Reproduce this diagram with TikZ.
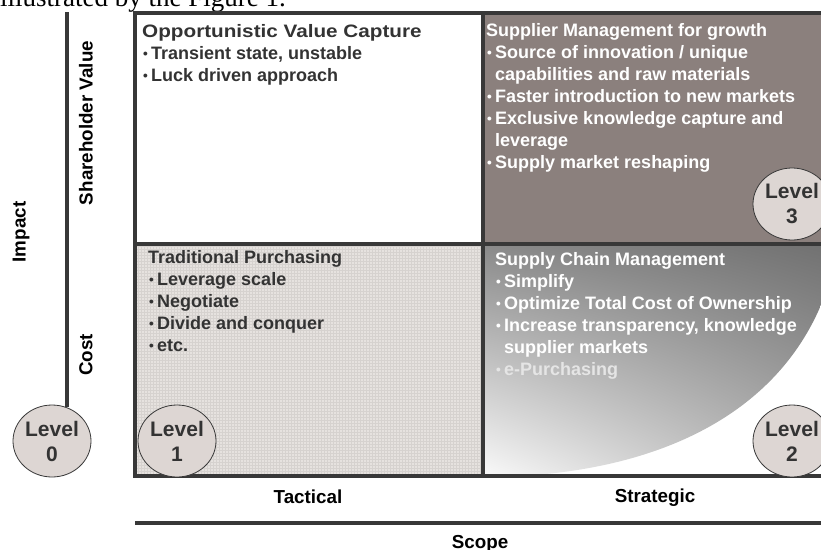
\documentclass[tikz,border=0pt]{standalone}
\usepackage{fontspec}
\usepackage{graphicx}
\setmainfont{Liberation Sans}
\newfontfamily\bodyfont{Liberation Serif}
\usetikzlibrary{shapes.geometric,shadings}
\definecolor{frame}{HTML}{383838}
\definecolor{darktext}{HTML}{333333}
\definecolor{growthbox}{HTML}{8B807D}
\definecolor{tradbox}{HTML}{E6E2DF}
\definecolor{levelfill}{HTML}{DDD6D3}
\tikzset{
  lbl/.style={font=\bfseries\fontsize{18.8}{22}\selectfont, inner sep=0pt},
  boxtext/.style={lbl, font=\bfseries\fontsize{18}{22}\selectfont, anchor=north west, align=left},
  levelcirc/.style={ellipse, draw=frame, line width=0.8pt, fill=levelfill, text=darktext,
    minimum width=78pt, minimum height=72pt, inner sep=0pt, align=center,
    font=\bfseries\fontsize{21}{25}\selectfont},
  axis/.style={frame, line width=3.5pt},
}
\newcommand{\bul}{\makebox[9pt][l]{\hspace{1pt}\raisebox{0.6pt}{\fontsize{13.5}{13.5}\selectfont•}}}
\newcommand{\level}[4]{\node[levelcirc] (#1) at (#2,#3) {Level\\#4};}

\begin{document}
\begin{tikzpicture}[x=1pt,y=-1pt]
    \useasboundingbox (0,0) rectangle (821,549);
    \node[font=\bodyfont\fontsize{27}{27}\selectfont, anchor=base west, inner sep=0pt] (intro) at (0,6) {illustrated by the Figure 1.};
    % quadrant fills
    \fill[growthbox] (483,13) rectangle (835,244);
    \fill[tradbox] (135,244) rectangle (483,476);
    \draw[tradbox!93!black, line width=0.3pt, step=3pt] (135,244) grid (483,476);
    \begin{scope}
      \clip (483,244) -- (835,244) -- (835,262) .. controls (800,410) and (660,477) .. (483,477) -- cycle;
      \shade[upper left=black!46, upper right=black!56, lower left=black!2, lower right=black!32] (483,244) rectangle (835,477);
    \end{scope}
    % frame and axes
    \draw[axis] (135,13) rectangle (840,476);
    \draw[axis] (483,13) -- (483,476);
    \draw[axis] (135,244) -- (840,244);
    \coordinate (imptop) at (67,12);
    \coordinate (scl) at (135,523); \coordinate (scr) at (840,523);
    \draw[axis] (scl) -- (scr);
    % quadrant texts
    \node[boxtext, text=darktext] (opp) at (142,24) {\scalebox{1.15}[1]{Opportunistic Value Capture}\\\bul Transient state, unstable\\\bul Luck driven approach};
    \node[boxtext, text=white] (growth) at (486,23) {Supplier Management for growth\\\bul Source of innovation / unique\\\hspace*{9pt}capabilities and raw materials\\\bul Faster introduction to new markets\\\bul Exclusive knowledge capture and\\\hspace*{9pt}leverage\\\bul Supply market reshaping};
    \node[boxtext, text=darktext] (trad) at (148,250) {Traditional Purchasing\\\bul Leverage scale\\\bul Negotiate\\\bul Divide and conquer\\\bul etc.};
    \node[boxtext, text=white] (scm) at (495,252) {Supply Chain Management\\\bul Simplify\\\bul Optimize Total Cost of Ownership\\\bul Increase transparency, knowledge\\\hspace*{9pt}supplier markets\\{\color{white!90!black}\bul e-Purchasing}};
    % axis labels
    \node[lbl, rotate=90] (share) at (86,123) {Shareholder Value};
    \node[lbl, rotate=90] (cost) at (86,355) {Cost};
    \node[lbl, rotate=90] (impact) at (21,232) {Impact};
    \node[lbl, anchor=base] (tact) at (308,503) {Tactical};
    \node[lbl, anchor=base] (strat) at (655,502) {Strategic};
    \node[lbl, anchor=base] (scope) at (480,548) {Scope};
    % levels
    \level{L0}{52}{441}{0}
    \level{L1}{177}{441}{1}
    \level{L2}{792}{441}{2}
    \level{L3}{792}{204}{3}
    \draw[axis] (imptop) -- (imptop |- L0.67);
\end{tikzpicture}
\end{document}
